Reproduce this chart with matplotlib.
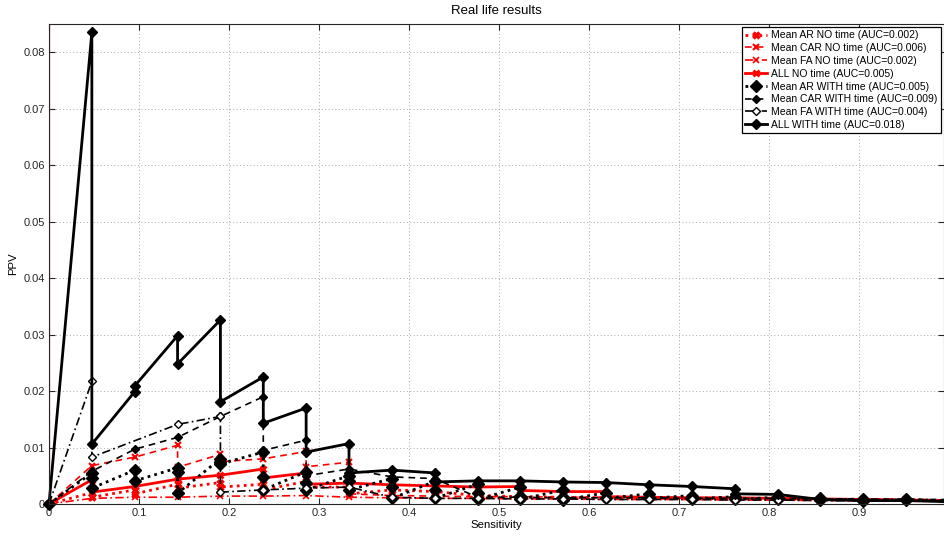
import numpy as np
import matplotlib
matplotlib.use("Agg")
import matplotlib.pyplot as plt

plt.rcParams['font.family'] = ['Liberation Sans', 'DejaVu Sans']

N_TOTAL = 21  # number of events; sensitivity = detected / N_TOTAL

# ---- data (detected count, PPV) ----
ar_no_k = [0, 1, 1, 2, 2, 3, 3, 4, 4, 5, 5, 6, 6, 7, 7, 8, 9, 10, 11, 12, 13, 14, 15, 16, 17, 18, 19, 20, 21]
ar_no_v = [0, .0020, .0012, .0025, .0018, .0035, .0028, .0038, .0030, .0035, .0025, .0040, .0030,
           .0030, .0018, .0025, .0022, .0015, .0013, .0012, .0011, .0010, .0010, .0009, .0009,
           .0008, .0008, .0007, .0006]

car_no_k = [0, 1, 2, 3, 3, 4, 4, 5, 6, 6, 7, 7, 8, 9, 10, 11, 12, 13, 14, 15, 16, 17, 18, 19, 20, 21]
car_no_v = [0, .0068, .0083, .0104, .0065, .0088, .0075, .0080, .0093, .0066, .0074, .0018, .0015,
            .0014, .0013, .0013, .0012, .0012, .0011, .0011, .0010, .0010, .0009, .0009, .0008, .0007]

fa_no_k = [0, 1, 2, 3, 4, 5, 6, 7, 8, 9, 10, 11, 12, 13, 14, 15, 16, 17, 18, 19, 20, 21]
fa_no_v = [0, .0010, .0012, .0012, .0014, .0014, .0015, .0012, .0011, .0010, .0010, .0009,
           .0009, .0008, .0008, .0008, .0007, .0007, .0006, .0006, .0005, .0005]

all_no_k = [0, 1, 1, 2, 3, 4, 5, 5, 6, 6, 7, 8, 9, 10, 11, 11, 12, 13, 13, 14, 15, 16, 17, 18, 19, 20, 21]
all_no_v = [0, .0043, .0021, .0031, .0044, .0051, .0062, .0046, .0055, .0035, .0037, .0034, .0032,
            .0030, .0031, .0024, .0022, .0022, .0013, .0012, .0011, .0011, .0010, .0009, .0008, .0007, .0006]

ar_w_k = [0, 1, 1, 1, 2, 2, 3, 3, 3, 4, 4, 4, 5, 5, 5, 6, 6, 6, 7, 7, 7, 8, 8, 8, 9, 9, 9,
          10, 10, 10, 11, 11, 11, 12, 12, 12, 13, 13, 14, 14, 15, 15, 16, 16, 17, 17, 18, 18,
          19, 19, 20, 21]
ar_w_v = [0, .0055, .0046, .0028, .0060, .0041, .0064, .0057, .0019, .0080, .0074, .0071,
          .0092, .0048, .0025, .0057, .0037, .0025, .0050, .0040, .0025, .0045, .0030, .0010,
          .0040, .0025, .0010, .0035, .0020, .0008, .0030, .0015, .0008, .0025, .0012, .0007,
          .0020, .0010, .0018, .0010, .0015, .0009, .0013, .0008, .0012, .0008, .0010, .0007,
          .0009, .0006, .0008, .0006]

car_w_k = [0, 1, 2, 3, 4, 5, 5, 6, 6, 7, 8, 9, 10, 11, 12, 13, 14, 15, 16, 17, 18, 19, 20, 21]
car_w_v = [0, .0058, .0097, .0118, .0155, .0190, .0095, .0113, .0050, .0062, .0048, .0045, .0012,
           .0012, .0011, .0011, .0011, .0010, .0010, .0010, .0009, .0009, .0008, .0008]

fa_w_k = [0, 1, 1, 3, 4, 4, 5, 6, 7, 8, 9, 10, 11, 12, 13, 14, 15, 16, 17, 18, 19, 20, 21]
fa_w_v = [0, .0217, .0083, .0141, .0155, .0021, .0025, .0028, .0030, .0012, .0010, .0010, .0009,
          .0009, .0008, .0008, .0008, .0007, .0007, .0006, .0006, .0005, .0005]

all_w_k = [0, 1, 1, 2, 2, 3, 3, 4, 4, 5, 5, 6, 6, 7, 7, 8, 9, 9, 10, 11, 12, 13, 14, 15, 16, 16,
           17, 18, 19, 20, 21]
all_w_v = [0, .0835, .0106, .0199, .0209, .0298, .0248, .0326, .0181, .0225, .0143, .0170, .0092,
           .0107, .0055, .0060, .0055, .0039, .0041, .0041, .0039, .0038, .0034, .0031, .0027, .0018,
           .0017, .0008, .0006, .0006, .0004]

labels = ["Mean AR NO time (AUC=0.002)", "Mean CAR NO time (AUC=0.006)",
          "Mean FA NO time (AUC=0.002)", "ALL NO time (AUC=0.005)",
          "Mean AR WITH time (AUC=0.005)", "Mean CAR WITH time (AUC=0.009)",
          "Mean FA WITH time (AUC=0.004)", "ALL WITH time (AUC=0.018)"]

xticks = [0, 0.1, 0.2, 0.3, 0.4, 0.5, 0.6, 0.7, 0.8, 0.9]
xticklabels = ["0", "0.1", "0.2", "0.3", "0.4", "0.5", "0.6", "0.7", "0.8", "0.9"]
yticks = [0, 0.01, 0.02, 0.03, 0.04, 0.05, 0.06, 0.07, 0.08]
yticklabels = ["0", "0.01", "0.02", "0.03", "0.04", "0.05", "0.06", "0.07", "0.08"]

fig = plt.figure(figsize=(9.45, 5.37), dpi=100)
ax = fig.add_axes([49 / 945, 33 / 537, 895 / 945, 480 / 537])

def sens(k):
    return np.asarray(k, dtype=float) / N_TOTAL

series = [
    (ar_no_k, ar_no_v, dict(color='red', ls=(0, (1, 1.5)), lw=2.0, marker='x', ms=5, mew=2.5)),
    (car_no_k, car_no_v, dict(color='red', ls=(0, (4, 3)), lw=1.2, marker='x', ms=5, mew=1.5)),
    (fa_no_k, fa_no_v, dict(color='red', ls=(0, (5, 2, 1, 2)), lw=1.2, marker='x', ms=4, mew=1.2)),
    (all_no_k, all_no_v, dict(color='red', ls='-', lw=2.0, marker='x', ms=5, mew=2.0)),
    (ar_w_k, ar_w_v, dict(color='black', ls=(0, (1, 1.5)), lw=2.0, marker='D', ms=6,
                          mfc='black', mec='black')),
    (car_w_k, car_w_v, dict(color='black', ls=(0, (4, 3)), lw=1.2, marker='D', ms=4,
                            mfc='black', mec='black')),
    (fa_w_k, fa_w_v, dict(color='black', ls=(0, (5, 2, 1, 2)), lw=1.2, marker='D', ms=4,
                          mfc='white', mec='black', mew=1.0)),
    (all_w_k, all_w_v, dict(color='black', ls='-', lw=2.0, marker='D', ms=5,
                            mfc='black', mec='black')),
]

ax.axvline(0, color='red', lw=1.6, zorder=1.5)
for (k, v, st), lab in zip(series, labels):
    ax.plot(sens(k), v, label=lab, clip_on=False, zorder=3, **st)

ax.set_xlim(0, 895 / 900)
ax.set_ylim(0, 0.085)
ax.set_xticks(xticks)
ax.set_xticklabels(xticklabels)
ax.set_yticks(yticks)
ax.set_yticklabels(yticklabels)
ax.tick_params(direction='in', length=4, width=0.8, labelsize=8, top=True, right=True,
               pad=3, colors='#262626')
ax.grid(True, color='#a8a8a8', ls=(0, (1, 2.5)), lw=0.7)
ax.set_axisbelow(True)
for s in ax.spines.values():
    s.set_linewidth(0.8)
    s.set_color('#262626')
    s.set_zorder(4)

ax.set_title("Real life results", fontsize=9.5, pad=7)
ax.set_xlabel("Sensitivity", fontsize=8.2, labelpad=1)
ax.set_ylabel("PPV", fontsize=8.2, labelpad=4)

leg = ax.legend(loc='upper right', bbox_to_anchor=(1.0, 1.0), borderaxespad=0.3,
                fontsize=7.5, handlelength=2.1, handletextpad=0.45, labelspacing=0.27,
                borderpad=0.3, fancybox=False, framealpha=1, edgecolor='black')
leg.get_frame().set_linewidth(0.9)
leg.set_zorder(10)

fig.savefig("out.png", dpi=100)
